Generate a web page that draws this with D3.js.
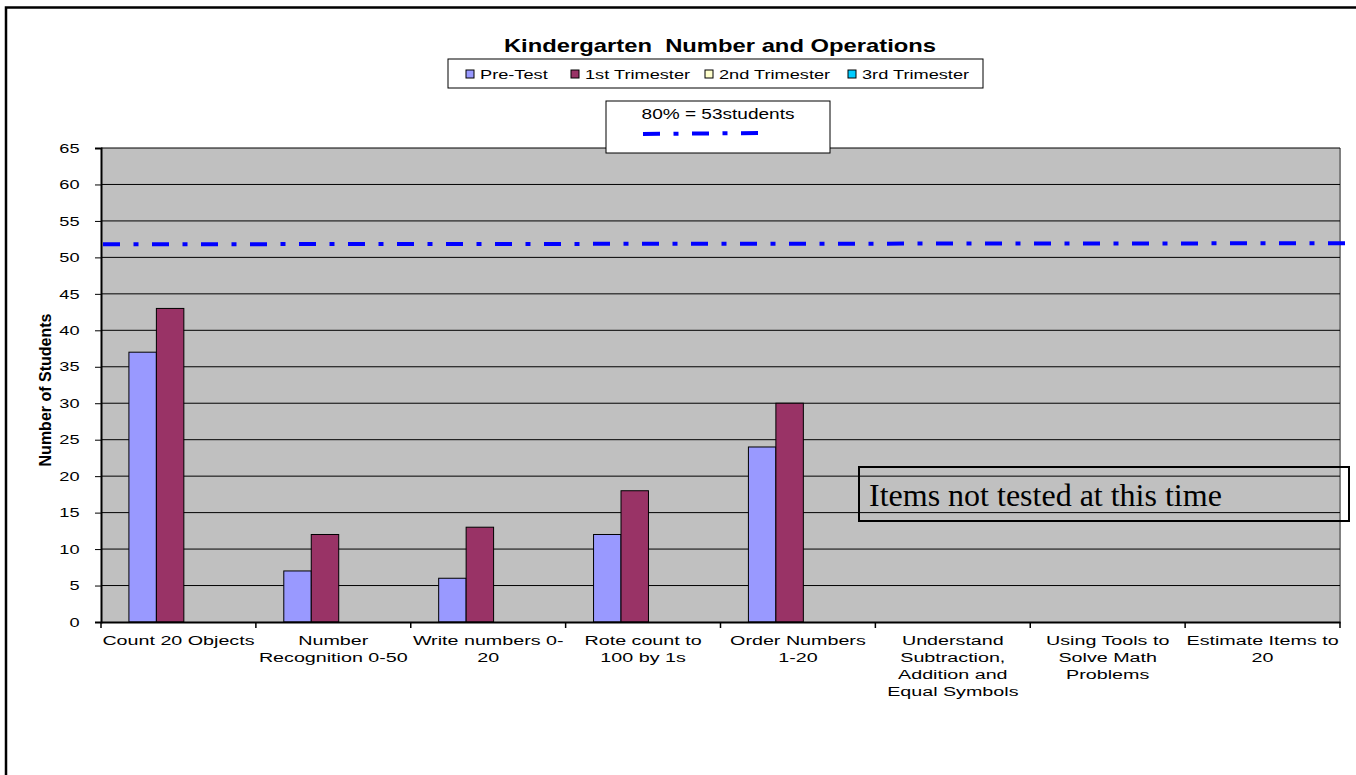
<!DOCTYPE html>
<html>
<head>
<meta charset="utf-8">
<script src="https://cdn.jsdelivr.net/npm/d3@7"></script>
<style>
  body { margin: 0; background: #fff; }
  svg { display: block; font-family: Arial, "Liberation Sans", sans-serif; }
  text { white-space: pre; }
</style>
</head>
<body>
<svg id="chart" width="1356" height="775"></svg>
<script>
// chart data
var categories = ["Count 20 Objects", "Number\nRecognition 0-50", "Write numbers 0-\n20", "Rote count to\n100 by 1s",
  "Order Numbers\n1-20", "Understand\nSubtraction,\nAddition and\nEqual Symbols", "Using Tools to\nSolve Math\nProblems",
  "Estimate Items to\n20"];
var seriesNames = ["Pre-Test", "1st Trimester", "2nd Trimester", "3rd Trimester"];
var seriesColors = ["#9999ff", "#993366", "#ffffcc", "#00ccff"];
var preTest = [37, 7, 6, 12, 24, 0, 0, 0];
var firstTrimester = [43, 12, 13, 18, 30, 0, 0, 0];
var secondTrimester = [0, 0, 0, 0, 0, 0, 0, 0];
var thirdTrimester = [0, 0, 0, 0, 0, 0, 0, 0];
var yTicks = [0, 5, 10, 15, 20, 25, 30, 35, 40, 45, 50, 55, 60, 65];
var targetValue = 51.8;
var targetLabel = "80% = 53students";
var noteText = "Items not tested at this time";

var svg = d3.select("#chart"),
    plotLeft = 101, plotRight = 1340, plotTop = 148, plotBottom = 622,
    sx = 1.4; // the original chart text is drawn wider than it is tall

var allSeries = [preTest, firstTrimester, secondTrimester, thirdTrimester];

// outer frame (only top and left edges show)
svg.append("path").attr("d", "M6,775V7.5H1356").attr("fill", "none").attr("stroke", "#000").attr("stroke-width", 2.5);

var x = d3.scaleBand().domain(categories).range([plotLeft, plotRight]).paddingInner(0).paddingOuter(0);
var xs = d3.scaleBand().domain(seriesNames).range([0, x.bandwidth()]).paddingInner(0).paddingOuter(0.82).align(0.62);
var y = d3.scaleLinear().domain([0, 65]).range([plotBottom, plotTop]);

// plot area
svg.append("rect").attr("x", plotLeft).attr("y", plotTop).attr("width", plotRight - plotLeft)
  .attr("height", plotBottom - plotTop).attr("fill", "#c0c0c0");
svg.append("line").attr("x1", plotRight).attr("x2", plotRight).attr("y1", plotTop).attr("y2", plotBottom)
  .attr("stroke", "#808080").attr("stroke-width", 2);

// gridlines
svg.append("g").selectAll("line").data(yTicks.slice(1)).join("line")
  .attr("x1", plotLeft).attr("x2", plotRight)
  .attr("y1", function(d) { return y(d); }).attr("y2", function(d) { return y(d); })
  .attr("stroke", "#000").attr("stroke-width", 1);

// bars
allSeries.forEach(function(vals, si) {
  svg.append("g").selectAll("rect").data(vals).join("rect")
    .filter(function(d) { return d > 0; })
    .attr("x", function(d, i) { return x(categories[i]) + xs(seriesNames[si]); })
    .attr("y", function(d) { return y(d); })
    .attr("width", xs.bandwidth())
    .attr("height", function(d) { return y(0) - y(d); })
    .attr("fill", seriesColors[si])
    .attr("stroke", "#000").attr("stroke-width", 1);
});

// y axis
var yAxis = svg.append("g").attr("transform", "translate(" + plotLeft + ",0)")
  .call(d3.axisLeft(y).tickValues(yTicks).tickSize(6).tickPadding(9.3));
yAxis.select(".domain").attr("stroke", "#000").attr("stroke-width", 2);
yAxis.selectAll("text").attr("font-size", 13).attr("fill", "#000")
  .attr("font-family", "Arial, 'Liberation Sans', sans-serif")
  .attr("transform", "scale(" + sx + ",1)");

// x axis
var xAxis = svg.append("g").attr("transform", "translate(0," + plotBottom + ")")
  .call(d3.axisBottom(x).tickSize(0).tickFormat(""));
xAxis.select(".domain").attr("stroke", "#000").attr("stroke-width", 2);
var bounds = categories.map(function(c) { return x(c); }).concat([plotRight]);
xAxis.append("g").selectAll("line").data(bounds).join("line")
  .attr("x1", function(d) { return d; }).attr("x2", function(d) { return d; })
  .attr("y1", 0).attr("y2", 6).attr("stroke", "#000").attr("stroke-width", 1.5);

svg.append("g").selectAll("text").data(categories).join("text")
  .attr("text-anchor", "middle").attr("font-size", 13.5).attr("fill", "#000")
  .attr("transform", function(d) { return "translate(" + (x(d) + x.bandwidth() / 2) + "," + (plotBottom + 23) + ") scale(1.46,1)"; })
  .each(function(d) {
    var t = d3.select(this);
    d.split("\n").forEach(function(line, i) {
      t.append("tspan").attr("x", 0).attr("dy", i ? 17 : 0).text(line);
    });
  });

// y axis title
svg.append("text").attr("transform", "translate(51,390) rotate(-90)")
  .attr("text-anchor", "middle").attr("font-size", 16).attr("font-weight", "bold").text("Number of Students");

// target line
var dash = "17,13.5,5,13.5";
svg.append("line").attr("x1", plotLeft + 2).attr("x2", 1356)
  .attr("y1", y(targetValue)).attr("y2", y(targetValue) - 1)
  .attr("stroke", "#0000ff").attr("stroke-width", 4).attr("stroke-dasharray", dash);

// title
svg.append("text").attr("transform", "translate(720,52) scale(1.36,1)").attr("text-anchor", "middle")
  .attr("font-size", 17.5).attr("font-weight", "bold").text("Kindergarten  Number and Operations");

// legend
var legend = svg.append("g");
legend.append("rect").attr("x", 448).attr("y", 59).attr("width", 535).attr("height", 29)
  .attr("fill", "#fff").attr("stroke", "#000").attr("stroke-width", 1);
var lx = [466, 571, 705, 848];
var items = legend.selectAll("g").data(seriesNames).join("g")
  .attr("transform", function(d, i) { return "translate(" + lx[i] + ",74)"; });
items.append("rect").attr("x", 0).attr("y", -4).attr("width", 8).attr("height", 8)
  .attr("fill", function(d, i) { return seriesColors[i]; }).attr("stroke", "#000").attr("stroke-width", 1);
items.append("text").attr("transform", "translate(14,5) scale(1.4,1)").attr("font-size", 13).text(function(d) { return d; });

// target legend box
svg.append("rect").attr("x", 606).attr("y", 101).attr("width", 224).attr("height", 52)
  .attr("fill", "#fff").attr("stroke", "#000").attr("stroke-width", 1);
svg.append("text").attr("transform", "translate(718,119) scale(1.36,1)").attr("text-anchor", "middle")
  .attr("font-size", 14).text(targetLabel);
svg.append("line").attr("x1", 643).attr("x2", 760).attr("y1", 134).attr("y2", 133)
  .attr("stroke", "#0000ff").attr("stroke-width", 4).attr("stroke-dasharray", dash);

// note box
svg.append("rect").attr("x", 859).attr("y", 467).attr("width", 490).attr("height", 54)
  .attr("fill", "none").attr("stroke", "#000").attr("stroke-width", 2);
svg.append("text").attr("x", 869).attr("y", 506).attr("font-family", "'Times New Roman', 'Liberation Serif', serif")
  .attr("font-size", 32).text(noteText);
</script>
</body>
</html>
